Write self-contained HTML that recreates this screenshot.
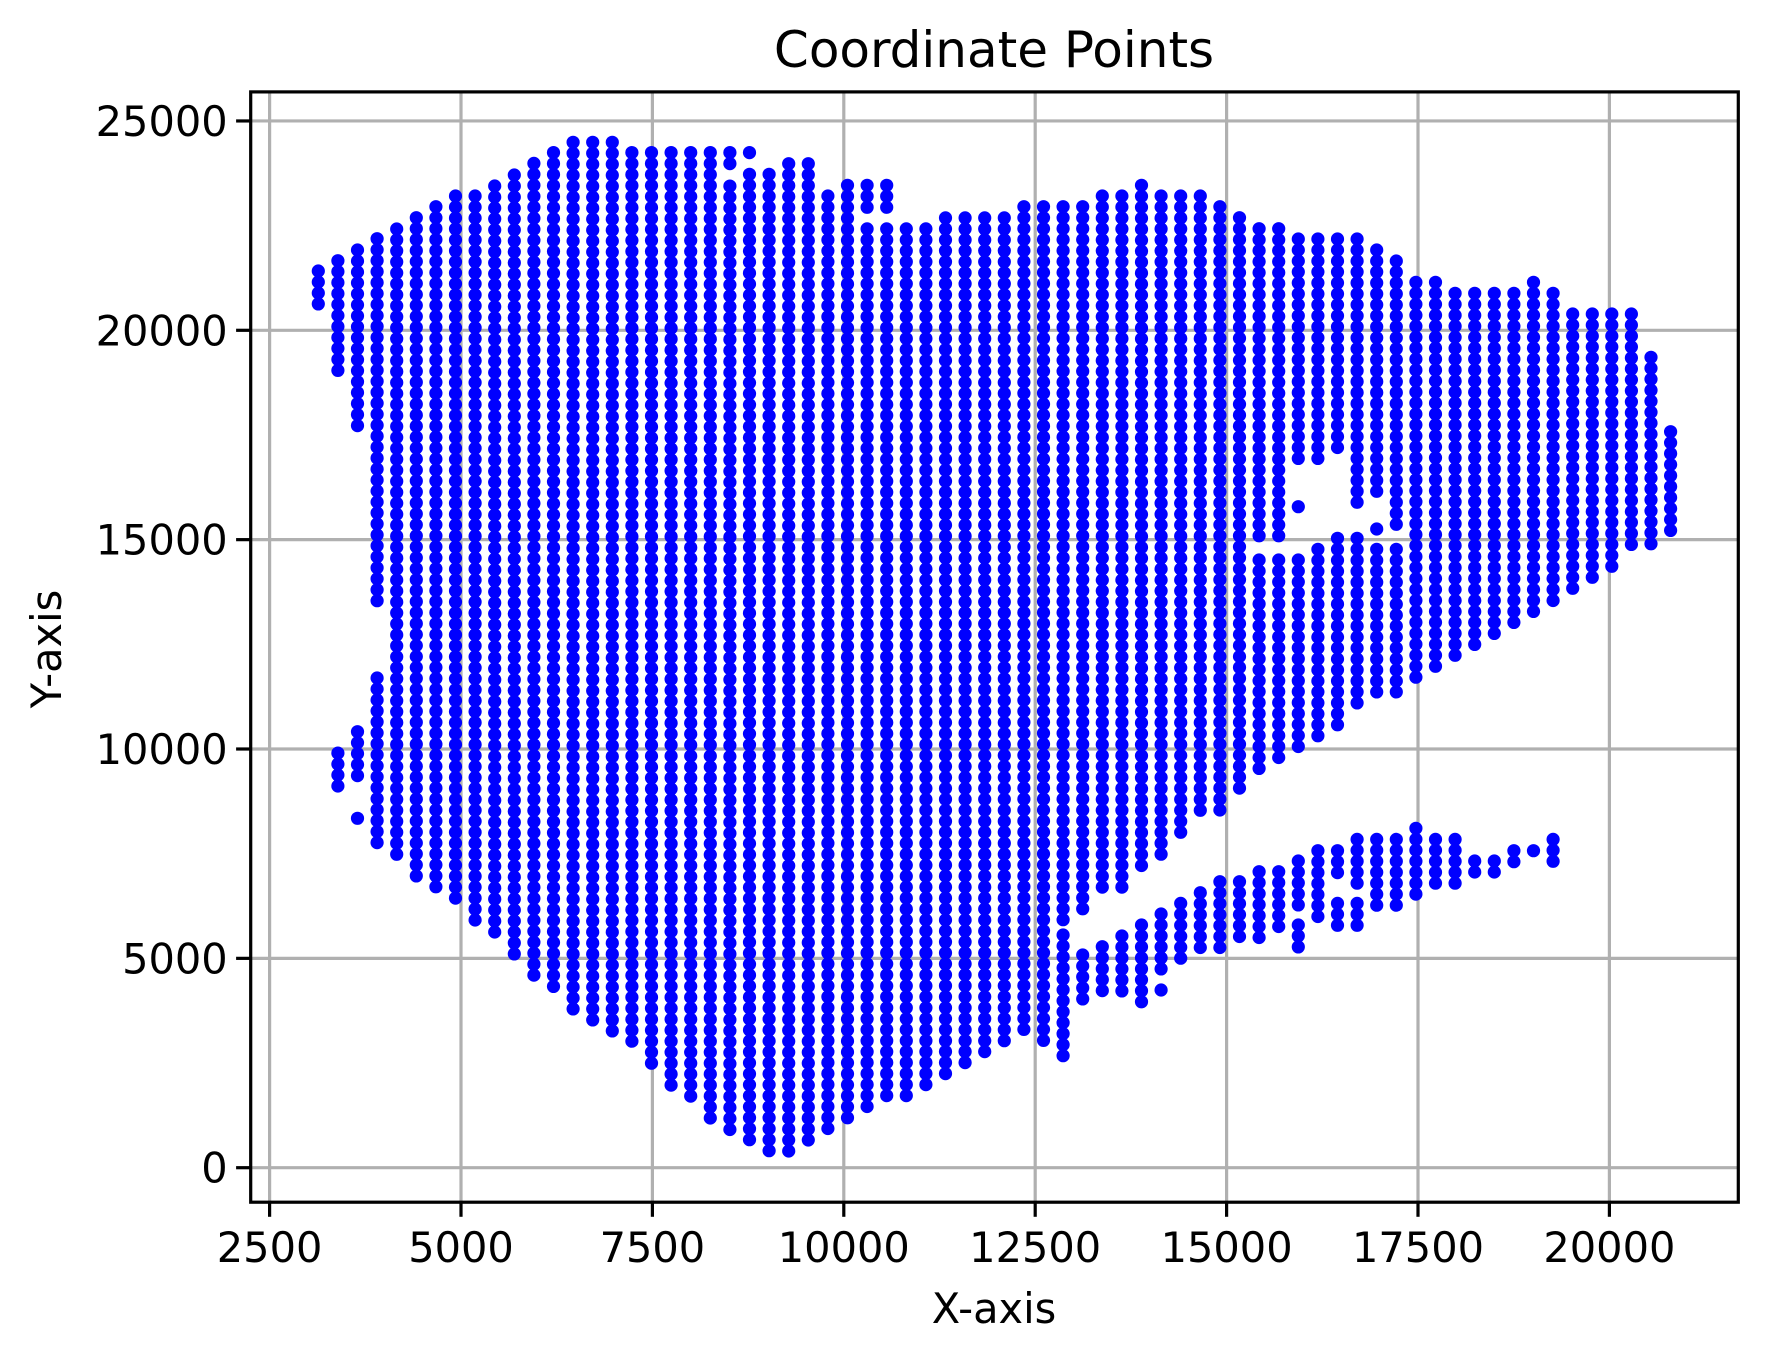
<!DOCTYPE html>
<html>
<head>
<meta charset="utf-8">
<style>
html,body{margin:0;padding:0;background:#fff;}
svg{display:block;font-family:"DejaVu Sans","Liberation Sans",sans-serif;}
</style>
</head>
<body>
<svg id="chart" width="1768" height="1361" viewBox="0 0 1768 1361" xmlns="http://www.w3.org/2000/svg">
  <rect x="0" y="0" width="1768" height="1361" fill="#fff"/>
  <g id="grid"></g>
  <g id="points"></g>
  <rect x="250.7" y="91.9" width="1487.6" height="1110.3" fill="none" stroke="#000" stroke-width="3.2"/>
  <g id="xticks"></g>
  <g id="yticks"></g>
  <text x="994" y="67" font-size="50" text-anchor="middle" fill="#000">Coordinate Points</text>
  <text x="994" y="1323" font-size="41.5" text-anchor="middle" fill="#000">X-axis</text>
  <text x="61" y="649" font-size="41.5" text-anchor="middle" fill="#000" transform="rotate(-90 61 649)">Y-axis</text>
</svg>
<script>
// ---- data ----
const xTickValues = [2500, 5000, 7500, 10000, 12500, 15000, 17500, 20000];
const yTickValues = [0, 5000, 10000, 15000, 20000, 25000];
const columnX0 = 3136;      // x of first column (data units)
const columnStep = 256;     // spacing between columns (data units)
const pointStep = 262;      // spacing of points within a column (data units)
// each column: list of [top, bottom] y-ranges of points
const columnSegments = [
  [[21416,20628]],
  [[21663,19092],[9902,9091]],
  [[21917,17794],[10413,9339],[8345,8345]],
  [[22188,13480],[11695,7828]],
  [[22420,7564]],
  [[22690,7055]],
  [[22952,6577]],
  [[23207,6291]],
  [[23207,5773]],
  [[23446,5534]],
  [[23708,5016]],
  [[23987,4523]],
  [[24243,4244]],
  [[24490,3750]],
  [[24490,3487]],
  [[24490,3210]],
  [[24243,2947]],
  [[24243,2453]],
  [[24243,1951]],
  [[24243,1681]],
  [[24243,1163]],
  [[24243,23976],[23445,917]],
  [[24243,24243],[23725,645]],
  [[23725,382]],
  [[23979,382]],
  [[23979,645]],
  [[23207,900]],
  [[23462,1156]],
  [[23462,22930],[22421,1418]],
  [[23462,22930],[22421,1681]],
  [[22421,1681]],
  [[22421,1935]],
  [[22684,2173]],
  [[22684,2429]],
  [[22684,2692]],
  [[22684,2931]],
  [[22952,3194]],
  [[22952,2931]],
  [[22952,6011],[5558,2692]],
  [[22952,6278],[5080,3965]],
  [[23207,6541],[5278,4227]],
  [[23207,6796],[5533,4227]],
  [[23462,7309],[5797,3965]],
  [[23207,7548],[6059,4722],[4244,4244]],
  [[23207,8082],[6313,5000]],
  [[23207,8584],[6568,5278]],
  [[22952,8584],[6831,5278]],
  [[22690,9117],[6831,5517]],
  [[22427,14951],[14514,9618],[7070,5517]],
  [[22427,14951],[14514,9881],[7070,5756]],
  [[22180,16824],[15788,15788],[14514,10151],[7325,6313],[5797,5278]],
  [[22180,16824],[14769,10374],[7571,6035]],
  [[22180,17063],[15032,10628],[7571,7070],[6313,5797]],
  [[22180,15788],[15032,11153],[7842,6790],[6313,5797]],
  [[21918,16066],[15254,15254],[14769,11409],[7842,6313]],
  [[21655,15254],[14769,11409],[7842,6313]],
  [[21146,11664],[8106,6553]],
  [[21146,11927],[7842,6790]],
  [[20883,12180],[7842,6790]],
  [[20883,12443],[7325,7070]],
  [[20883,12682],[7325,7070]],
  [[20883,12961],[7571,7325]],
  [[21146,13200],[7571,7571]],
  [[20883,13480],[7842,7325]],
  [[20389,13733]],
  [[20389,13996]],
  [[20389,14235]],
  [[20389,14769]],
  [[19355,14992]],
  [[17578,15254]]
];

// ---- axes ----
const plotLeft = 250.7, plotRight = 1738.3, plotTop = 91.9, plotBottom = 1202.2;
function xScale(v){ return 269.6 + (v - 2500) * 0.07656; }
function yScale(v){ return 1167.7 - v * 0.04187; }
const NS = "http://www.w3.org/2000/svg";
function mk(tag, attrs){ const e = document.createElementNS(NS, tag); for (const k in attrs) e.setAttribute(k, attrs[k]); return e; }

const grid = document.getElementById('grid');
const xt = document.getElementById('xticks');
const yt = document.getElementById('yticks');
xTickValues.forEach(v => {
  const x = xScale(v);
  const g = mk('line', {x1:x, x2:x, y1:plotTop, y2:plotBottom, stroke:'#b0b0b0', 'stroke-width':3.2});
  
  
  grid.appendChild(g);
  const t = mk('line', {x1:x, x2:x, y1:plotBottom, y2:plotBottom+14.6, stroke:'#000', 'stroke-width':3.2});
  
  
  xt.appendChild(t);
  const l = mk('text', {x:x, y:plotBottom+60, 'font-size':41.5, 'text-anchor':'middle', fill:'#000'});
  l.textContent = String(v);
  
  
  xt.appendChild(l);
});
yTickValues.forEach(v => {
  const y = yScale(v);
  const g = mk('line', {x1:plotLeft, x2:plotRight, y1:y, y2:y, stroke:'#b0b0b0', 'stroke-width':3.2});
  
  
  grid.appendChild(g);
  const t = mk('line', {x1:plotLeft-14.6, x2:plotLeft, y1:y, y2:y, stroke:'#000', 'stroke-width':3.2});
  
  
  yt.appendChild(t);
  const l = mk('text', {x:plotLeft-23, y:y+15, 'font-size':41.5, 'text-anchor':'end', fill:'#000'});
  l.textContent = String(v);
  
  
  yt.appendChild(l);
});

// ---- points ----
const pts = document.getElementById('points');
columnSegments.forEach((segs, k) => {
  const xv = columnX0 + k * columnStep;
  const cx = xScale(xv);
  segs.forEach(seg => {
    for (let yv = seg[0]; yv >= seg[1] - 100; yv -= pointStep) {
      const c = mk('circle', {cx:cx.toFixed(1), cy:yScale(yv).toFixed(1), r:6.6, fill:'#0000ff'});
      
      
      pts.appendChild(c);
    }
  });
});
</script>
</body>
</html>
